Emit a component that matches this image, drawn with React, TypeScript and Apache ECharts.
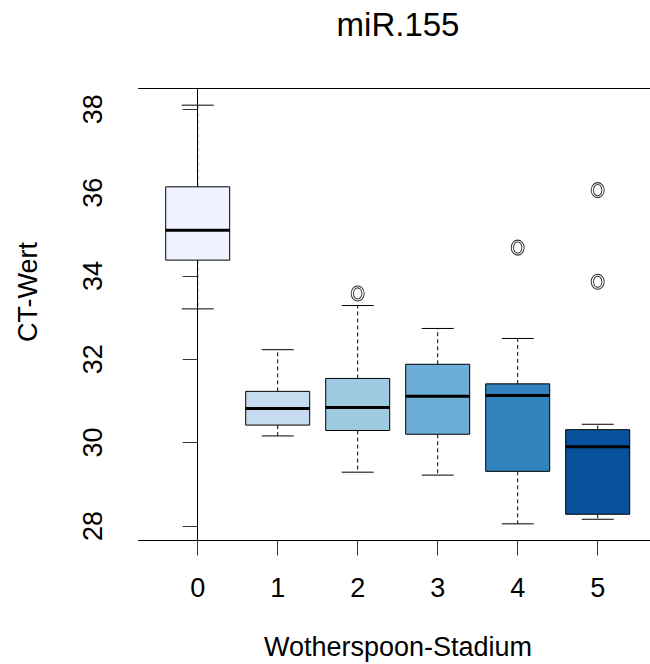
import React, { useEffect, useRef } from "react";
import * as echarts from "echarts";

const stages = ["0", "1", "2", "3", "4", "5"];
const whiskerLow = [33.21, 30.16, 29.29, 29.22, 28.05, 28.16];
const q1 = [34.38, 30.42, 30.29, 30.2, 29.31, 28.28];
const medians = [35.1, 30.82, 30.84, 31.11, 31.13, 29.9];
const q3 = [36.14, 31.23, 31.54, 31.88, 31.41, 30.31];
const whiskerHigh = [38.1, 32.23, 33.29, 32.74, 32.5, 30.44];
const outliers: [number, number][] = [
  [2, 33.58],
  [4, 34.68],
  [5, 36.06],
  [5, 33.86],
];
const boxColors = ["#EFF3FF", "#C6DBEF", "#9ECAE1", "#6BAED6", "#3182BD", "#08519C"];
const yTicks = [28, 30, 32, 34, 36, 38];
const xTicks = [0, 1, 2, 3, 4, 5];

const FONT = "'Liberation Sans', Arial, Helvetica, sans-serif";

const ringPath =
  "path://M0,7.5 A6.5,7.5 0 1,0 13,7.5 A6.5,7.5 0 1,0 0,7.5 Z M2.3,7.5 A4.2,5.6 0 1,0 10.7,7.5 A4.2,5.6 0 1,0 2.3,7.5 Z";

export default function App() {
  const ref = useRef<HTMLDivElement>(null);
  useEffect(() => {
    if (!ref.current) return;
    const chart = echarts.init(ref.current, null, { renderer: "svg" });
    const boxData = stages.map((_, i) => [i, whiskerLow[i], q1[i], medians[i], q3[i], whiskerHigh[i]]);
    const axisLineStyle = { color: "#000", width: 1 };
    chart.setOption({
      animation: false,
      backgroundColor: "#fff",
      grid: {
        left: 138.5,
        top: 88.5,
        width: 518.4,
        height: 452,
        containLabel: false,
        outerBoundsMode: "none",
      },
      xAxis: [
        {
          type: "value",
          min: -0.74,
          max: 5.74,
          position: "bottom",
          axisLine: { show: true, lineStyle: axisLineStyle },
          axisTick: { show: true, customValues: xTicks, length: 15, lineStyle: { color: "#333" } },
          axisLabel: {
            show: true,
            customValues: xTicks,
            formatter: (v: number) => stages[Math.round(v)],
            margin: 34,
            fontSize: 27,
            color: "#000",
            fontFamily: FONT,
          },
          splitLine: { show: false },
        },
        {
          type: "value",
          min: -0.74,
          max: 5.74,
          position: "top",
          axisLine: { show: true, lineStyle: axisLineStyle },
          axisTick: { show: false },
          axisLabel: { show: false },
          splitLine: { show: false },
        },
      ],
      yAxis: {
        type: "value",
        min: 27.65,
        max: 38.5,
        axisLine: { show: true, lineStyle: axisLineStyle },
        axisTick: { show: true, customValues: yTicks, length: 15, lineStyle: { color: "#333" } },
        axisLabel: {
          show: true,
          customValues: yTicks,
          rotate: 90,
          margin: 32,
          fontSize: 27,
          color: "#000",
          fontFamily: FONT,
        },
        splitLine: { show: false },
      },
      series: [
        {
          type: "custom",
          xAxisIndex: 0,
          yAxisIndex: 0,
          clip: false,
          encode: { x: 0, y: [1, 2, 3, 4, 5] },
          data: boxData,
          renderItem: (params: any, api: any) => {
            const x = api.value(0);
            const lo = api.coord([x, api.value(1)]);
            const pq1 = api.coord([x, api.value(2)]);
            const pmed = api.coord([x, api.value(3)]);
            const pq3 = api.coord([x, api.value(4)]);
            const hi = api.coord([x, api.value(5)]);
            const bw = api.size([0.8, 0])[0];
            const sw = bw / 2;
            const cx = lo[0];
            const dashed = { stroke: "#000", lineWidth: 1, lineDash: [4, 3] };
            const solid = { stroke: "#000", lineWidth: 1 };
            return {
              type: "group",
              children: [
                { type: "line", shape: { x1: cx, y1: pq3[1], x2: cx, y2: hi[1] }, style: dashed },
                { type: "line", shape: { x1: cx, y1: pq1[1], x2: cx, y2: lo[1] }, style: dashed },
                { type: "line", shape: { x1: cx - sw / 2, y1: hi[1], x2: cx + sw / 2, y2: hi[1] }, style: solid },
                { type: "line", shape: { x1: cx - sw / 2, y1: lo[1], x2: cx + sw / 2, y2: lo[1] }, style: solid },
                {
                  type: "rect",
                  shape: { x: cx - bw / 2, y: pq3[1], width: bw, height: pq1[1] - pq3[1] },
                  style: { fill: boxColors[params.dataIndex], stroke: "#000", lineWidth: 1 },
                },
                {
                  type: "line",
                  shape: { x1: cx - bw / 2, y1: pmed[1], x2: cx + bw / 2, y2: pmed[1] },
                  style: { stroke: "#000", lineWidth: 3 },
                },
              ],
            };
          },
        },
        {
          type: "scatter",
          xAxisIndex: 0,
          yAxisIndex: 0,
          data: outliers,
          symbol: ringPath,
          symbolSize: [13, 15],
          itemStyle: { color: "#fff", borderColor: "#333", borderWidth: 1, opacity: 1 },
        },
      ],
      graphic: [
        {
          type: "text",
          x: 398,
          y: 24,
          style: {
            text: "miR.155",
            fontSize: 33,
            fontFamily: FONT,
            fill: "#000",
            align: "center",
            verticalAlign: "middle",
          },
        },
        {
          type: "text",
          x: 398,
          y: 647,
          style: {
            text: "Wotherspoon-Stadium",
            fontSize: 27,
            fontFamily: FONT,
            fill: "#000",
            align: "center",
            verticalAlign: "middle",
          },
        },
        {
          type: "text",
          x: 28,
          y: 292,
          rotation: Math.PI / 2,
          style: {
            text: "CT-Wert",
            fontSize: 27,
            fontFamily: FONT,
            fill: "#000",
            align: "center",
            verticalAlign: "middle",
          },
        },
      ],
    });
    return () => chart.dispose();
  }, []);
  return (
    <div
      ref={ref}
      style={{ position: "fixed", left: 0, top: 0, width: 650, height: 664, background: "#fff" }}
    />
  );
}
